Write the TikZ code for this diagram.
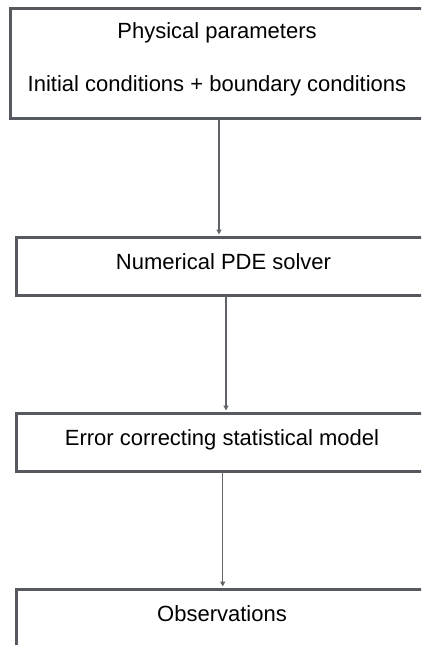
\documentclass[tikz,border=0pt]{standalone}
\usepackage{fontspec}
\setmainfont{Liberation Sans}
\usetikzlibrary{arrows.meta}
\definecolor{boxgray}{HTML}{565A60}
\definecolor{arrgray}{HTML}{606469}
\tikzset{
  stagebox/.style={draw=boxgray, line width=3pt, fill=white, inner sep=0pt,
    font=\fontsize{22}{26}\selectfont, align=center},
  flowarrow/.style={draw=arrgray, line width=1.3pt,
    -{Triangle[length=5pt,width=5pt]}, shorten >=1.5pt}
}
\begin{document}
\begin{tikzpicture}[x=1pt, y=-1pt]
\useasboundingbox (0,0) rectangle (421,645);
\clip (0,0) rectangle (421,645);
\node[stagebox, minimum width=413pt, minimum height=110pt, text height=68pt, text depth=11.6pt] (stage0) at (217,63.5){Physical parameters\\[27.4pt]Initial conditions + boundary conditions};
\node[stagebox, minimum width=414pt, minimum height=58pt, text height=16pt, text depth=9.2pt] (stage1) at (223.5,266.5){Numerical PDE solver};
\node[stagebox, minimum width=411pt, minimum height=58pt, text height=16pt, text depth=9.2pt] (stage2) at (222,442.5){Error correcting statistical model};
\node[stagebox, minimum width=411pt, minimum height=58pt, text height=16pt, text depth=9.2pt] (stage3) at (222,618.5){Observations};
\draw[flowarrow]([xshift=2pt, yshift=1.5pt]stage0.south) -- ([xshift=-4.5pt]stage1.north);
\draw[flowarrow]([xshift=2.5pt, yshift=1.5pt]stage1.south) -- ([xshift=4pt]stage2.north);
\draw[flowarrow]([xshift=0.7pt, yshift=1.5pt]stage2.south) -- ([xshift=0.7pt]stage3.north);

\end{tikzpicture}
\end{document}
